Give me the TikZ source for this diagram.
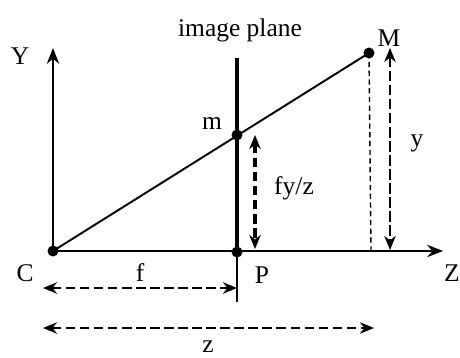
\documentclass[tikz,border=0pt]{standalone}
\usepackage{fontspec}
\setmainfont{Liberation Serif}
\usetikzlibrary{arrows.meta}
\begin{document}
\begin{tikzpicture}[
  x=0.02cm, y=-0.02cm,
  dot/.style={circle, fill, inner sep=0pt, minimum size=0.22cm},
  lbl/.style={font=\fontsize{14.5}{16}\selectfont, inner sep=0pt},
  axis/.style={->, >={Stealth[length=9pt, width=7pt]}, line width=1.1pt},
  dim/.style={<->, >={Stealth[length=8pt, width=6.5pt]}, line width=1.6pt,
              dash pattern=on 5.5pt off 2.5pt}
]
\useasboundingbox (0,0) rectangle (460,358);

\node[dot] (C) at (53,  251) {};
\node[dot] (P) at (237, 252) {};
\node[dot] (m) at (237, 135) {};
\node[dot] (M) at (369,  53) {};

\coordinate (Ytip)  at (53,  48);
\coordinate (Ztip)  at (443, 251);
\coordinate (plTop) at (237, 58);
\coordinate (plBot) at (237, 302);
\coordinate (Mz)    at (371, 251);

% axes and image plane
\draw[axis] (C.center) -- (Ytip);
\draw[axis] (C.center) -- (Ztip);
\draw[line width=1.8pt] (plTop) -- (P.center);
\draw[line width=0.9pt] (P.center) -- (plBot);
\draw[line width=1.1pt] (C.center) -- (M.center);
\draw[densely dashed, line width=0.8pt] (M.center) -- (Mz);

% dimensions
\coordinate (fyTop) at (255, 135);
\coordinate (fyBot) at (255, 249);
\coordinate (yTop)  at (390, 48);
\coordinate (yBot)  at (390, 250);
\coordinate (fL)    at (43,  288);
\coordinate (fR)    at (237, 288);
\coordinate (zL)    at (43,  328);
\coordinate (zR)    at (374, 328);
\draw[dim, line width=2.2pt] (fyTop) -- (fyBot);
\draw[dim, line width=1.1pt, dash pattern=on 6pt off 2pt] (yTop) -- (yBot);
\draw[dim] (fL) -- (fR);
\draw[dim] (zL) -- (zR);

% labels
\node[lbl] (lY)   at (20,  56)  {Y};
\node[lbl] (lpl)  at (240, 30)  {image plane};
\node[lbl] (lM)   at (389, 38)  {M};
\node[lbl] (lm)   at (212, 123) {m};
\node[lbl] (lfy)  at (294, 188) {fy/z};
\node[lbl] (ly)   at (417, 143) {y};
\node[lbl] (lC)   at (25,  273) {C};
\node[lbl] (lf)   at (140, 273) {f};
\node[lbl] (lP)   at (262, 275) {P};
\node[lbl] (lZ)   at (452, 273) {Z};
\node[lbl] (lz)   at (208, 347) {z};
\end{tikzpicture}
\end{document}
